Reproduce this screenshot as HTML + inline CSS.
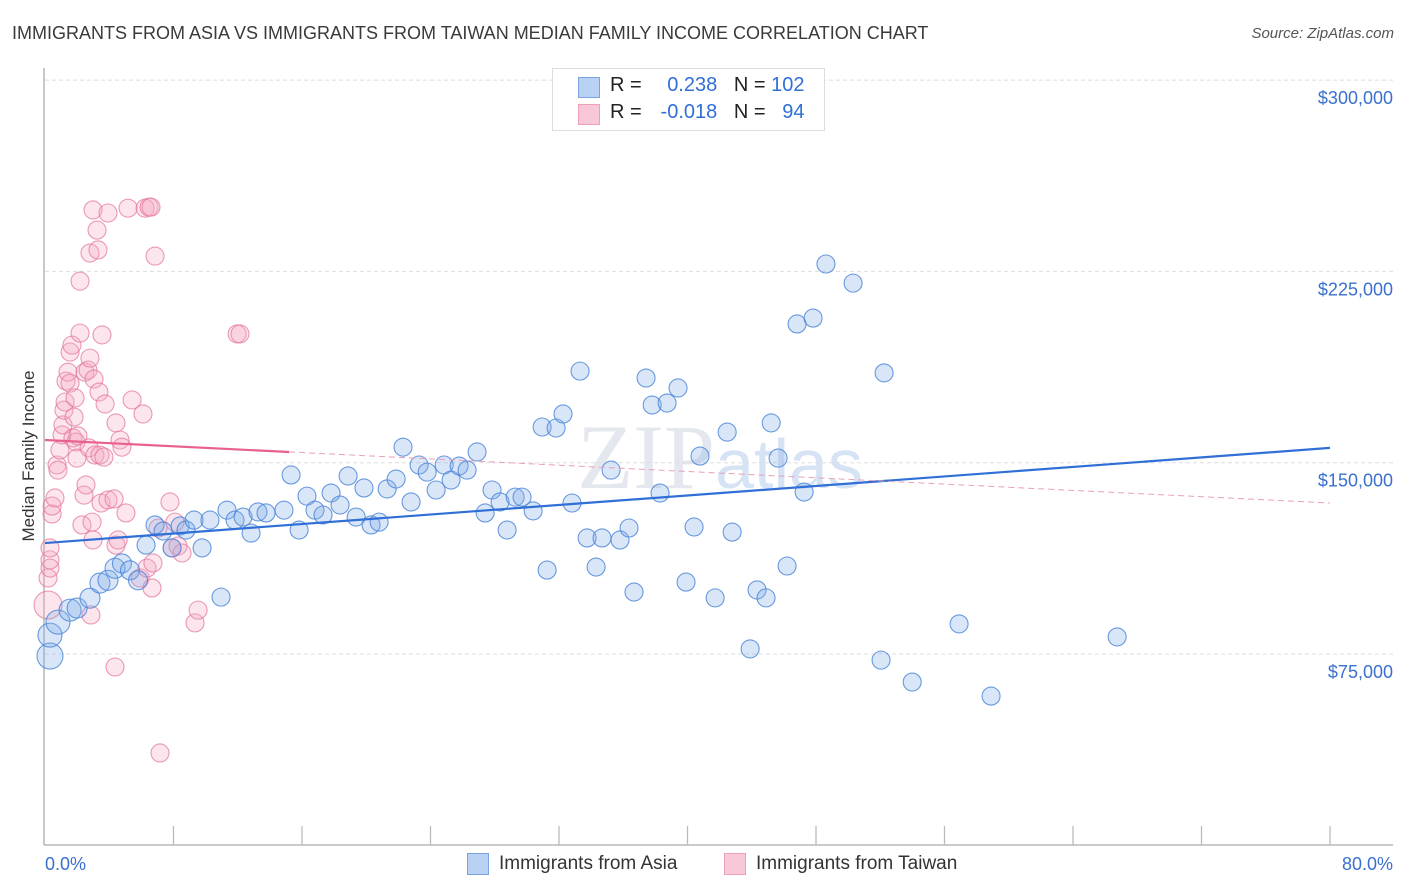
<!DOCTYPE html>
<html><head><meta charset="utf-8">
<style>
body{margin:0;background:#fff;font-family:"Liberation Sans",sans-serif;}
#wrap{position:relative;width:1406px;height:892px;overflow:hidden;}
.t{position:absolute;white-space:nowrap;}
</style></head>
<body>
<div id="wrap">
<div class="t" style="left:12px;top:23px;font-size:18px;color:#3a3a3a;">IMMIGRANTS FROM ASIA VS IMMIGRANTS FROM TAIWAN MEDIAN FAMILY INCOME CORRELATION CHART</div>
<div class="t" style="right:12px;top:25px;font-size:15px;color:#555;font-style:italic;">Source: ZipAtlas.com</div>
<svg id="svg" width="1406" height="892" style="position:absolute;left:0;top:0"></svg>
</div>
<script>
const yTicks=[75000,150000,225000,300000];
const yTickLabels=["$75,000","$150,000","$225,000","$300,000"];
const xTickLabels=["0.0%","80.0%"];
const asiaX=[0.31,0.31,0.81,1.56,2.0,2.8,3.42,3.92,4.36,4.79,5.29,5.79,6.29,6.85,7.35,7.91,8.41,8.78,9.28,9.78,10.27,10.96,11.33,11.83,12.33,12.83,13.26,13.76,14.88,15.32,15.82,16.31,16.81,17.31,17.81,18.37,18.87,19.37,19.86,20.30,20.80,21.30,21.86,22.29,22.79,23.29,23.79,24.35,24.85,25.28,25.78,26.28,26.90,27.40,27.83,28.33,28.77,29.27,29.70,30.39,30.95,31.26,31.82,32.25,32.81,33.31,33.75,34.31,34.68,35.24,35.80,36.36,36.67,37.42,37.80,38.29,38.73,39.41,39.91,40.41,40.78,41.72,42.47,42.78,43.90,44.33,44.89,45.21,45.64,46.20,46.82,47.26,47.82,48.62,50.31,52.05,52.24,53.99,56.91,58.90,66.75];
const asiaY=[74.2,82.4,87.5,92.2,93.0,96.9,102.8,103.9,108.6,110.5,107.8,103.9,117.7,125.6,123.2,116.6,125.2,123.6,127.5,116.6,127.5,97.3,131.4,127.5,128.7,122.4,130.7,130.3,131.4,145.2,123.6,136.9,131.4,129.5,138.1,133.4,144.8,128.7,140.1,125.6,126.7,139.7,143.6,156.1,134.6,149.1,146.3,139.3,149.1,143.2,148.7,147.1,154.2,130.3,139.3,134.6,123.6,136.5,136.5,131.1,164.0,107.9,163.6,169.1,134.2,185.9,120.5,109.1,120.5,147.1,119.7,124.4,99.3,183.2,172.6,138.1,173.4,179.3,103.2,124.8,152.6,97.0,162.0,122.8,77.0,100.1,97.0,165.6,151.8,109.5,204.4,138.5,206.7,227.9,220.4,72.6,185.2,64.0,86.8,58.5,81.7];
const asiaSize=[13,12,12,11,10,10,10,10,10,9.5,9.5,9.5];
const taiwanX=[0.19,0.19,0.31,0.31,0.31,0.44,0.44,0.62,0.75,0.81,0.93,1.06,1.12,1.18,1.25,1.31,1.43,1.56,1.56,1.68,1.74,1.81,1.87,1.93,1.99,2.05,2.18,2.18,2.30,2.43,2.49,2.55,2.68,2.74,2.80,2.80,2.86,2.93,2.99,2.99,3.05,3.11,3.24,3.30,3.36,3.42,3.49,3.55,3.67,3.74,3.92,3.92,4.30,4.36,4.42,4.42,4.55,4.67,4.79,5.04,5.17,5.42,5.92,6.10,6.23,6.35,6.48,6.60,6.66,6.72,6.85,7.04,7.16,7.78,7.91,8.09,8.28,8.53,9.34,9.53,11.96,12.14];
const taiwanY=[94.2,104.8,108.7,111.9,116.6,129.9,133.0,136.2,149.1,147.1,155.0,160.9,164.8,170.6,173.8,182.0,185.5,181.2,193.4,196.1,159.7,167.9,175.4,158.1,151.8,160.5,200.8,221.2,125.6,137.3,185.5,141.3,186.3,155.8,191.0,232.2,90.3,126.7,249.1,119.7,182.8,153.0,241.2,233.4,177.7,153.0,134.2,200.1,152.2,173.0,247.9,135.4,135.8,69.9,117.7,165.6,119.7,158.9,156.1,130.3,249.8,174.6,104.8,169.1,249.8,108.7,250.2,250.2,100.9,110.7,231.0,124.4,36.2,134.6,116.6,126.7,117.3,114.6,87.2,92.2,200.5,200.5];
const taiwanSize=[14];
// trend lines: [value at 0%, value at 80%]
const asiaTrend=[118500,155800];
const taiwanTrend=[158900,134200];
const taiwanSolidEnd=15.2;

const NS="http://www.w3.org/2000/svg";
const svg=document.getElementById('svg');
const X0=45,X1=1330,YB=845;
const xs=p=>X0+(X1-X0)*p/80;
const ys=v=>654-(v-75000)*191.3/75000;
function mk(t,a){const e=document.createElementNS(NS,t);for(const k in a)e.setAttribute(k,a[k]);svg.appendChild(e);return e;}

const wm=mk('text',{x:720,y:488,'text-anchor':'middle','font-size':92,'font-family':'Liberation Serif, serif',fill:'#e4e8ee'});


wm.innerHTML='ZIP<tspan fill="#d6e3f4" font-family="Liberation Sans, sans-serif" font-size="70">atlas</tspan>';

yTicks.forEach((v,i)=>{
  const g=mk('line',{x1:X0,x2:1393,y1:ys(v),y2:ys(v),stroke:'#ddd','stroke-dasharray':'4,3'});
  
  
  const t=mk('text',{x:1393,y:ys(v)+24,'text-anchor':'end','font-size':18,fill:'#3a70d0'});
  
  
  t.textContent=yTickLabels[i];
});
const ax=mk('line',{x1:44,x2:44,y1:68,y2:YB,stroke:'#aaa','stroke-width':1.3});


const bx=mk('line',{x1:44,x2:1393,y1:YB,y2:YB,stroke:'#aaa','stroke-width':1.3});


for(let i=1;i<=10;i++){
  const tk=mk('line',{x1:xs(i*8),x2:xs(i*8),y1:826,y2:YB,stroke:'#bbb','stroke-width':1.3});
  
  
}
[[0,45,'start'],[1,1393,'end']].forEach(([i,x,a])=>{
  const t=mk('text',{x:x,y:870,'text-anchor':a,'font-size':18,fill:'#3a70d0'});
  
  
  t.textContent=xTickLabels[i];
});
const yt=mk('text',{x:0,y:0,transform:'translate(34,456) rotate(-90)','text-anchor':'middle','font-size':17,fill:'#333'});


yt.textContent='Median Family Income';

taiwanX.forEach((p,i)=>{
  const c=mk('circle',{cx:xs(p),cy:ys(taiwanY[i]*1000),r:taiwanSize[i]||9,fill:'rgba(244,168,194,0.3)',stroke:'rgba(228,120,158,0.75)','stroke-width':1.1});
  
  
});
asiaX.forEach((p,i)=>{
  const c=mk('circle',{cx:xs(p),cy:ys(asiaY[i]*1000),r:asiaSize[i]||9,fill:'rgba(130,172,232,0.3)',stroke:'rgba(70,130,215,0.8)','stroke-width':1.1});
  
  
});
const tv=p=>taiwanTrend[0]+(taiwanTrend[1]-taiwanTrend[0])*p/80;
const l1=mk('line',{x1:xs(0),y1:ys(asiaTrend[0]),x2:xs(80),y2:ys(asiaTrend[1]),stroke:'#2f6fd6','stroke-width':2.2});


const l2=mk('line',{x1:xs(0),y1:ys(tv(0)),x2:xs(taiwanSolidEnd),y2:ys(tv(taiwanSolidEnd)),stroke:'#e8608f','stroke-width':2.2});


const l3=mk('line',{x1:xs(taiwanSolidEnd),y1:ys(tv(taiwanSolidEnd)),x2:xs(80),y2:ys(tv(80)),stroke:'#e8a0b8','stroke-width':1,'stroke-dasharray':'6,4'});


</script>
<div class="t" style="left:552px;top:68px;width:271px;height:61px;border:1px solid #ddd;background:#fff;font-size:20px;color:#222;">
  <div style="position:absolute;left:25px;top:8px;width:20px;height:19px;background:#b9d2f4;border:1px solid #7aa4e0;"></div>
  <div style="position:absolute;left:57px;top:5px;">R = <span style="color:#2f6fd6;display:inline-block;width:70px;text-align:right;">0.238</span>&nbsp;&nbsp;&nbsp;N = <span style="color:#2f6fd6">102</span></div>
  <div style="position:absolute;left:25px;top:35px;width:20px;height:19px;background:#f9c8d8;border:1px solid #eea0b9;"></div>
  <div style="position:absolute;left:57px;top:32px;">R = <span style="color:#2f6fd6;display:inline-block;width:70px;text-align:right;">-0.018</span>&nbsp;&nbsp;&nbsp;N = <span style="color:#2f6fd6">&nbsp;&nbsp;94</span></div>
</div>
<div class="t" style="left:467px;top:853px;width:20px;height:20px;background:#b9d2f4;border:1px solid #7aa4e0;"></div>
<div class="t" style="left:499px;top:853px;font-size:19px;color:#333;">Immigrants from Asia</div>
<div class="t" style="left:724px;top:853px;width:20px;height:20px;background:#f9c8d8;border:1px solid #eea0b9;"></div>
<div class="t" style="left:756px;top:853px;font-size:19px;color:#333;">Immigrants from Taiwan</div>
</body></html>
